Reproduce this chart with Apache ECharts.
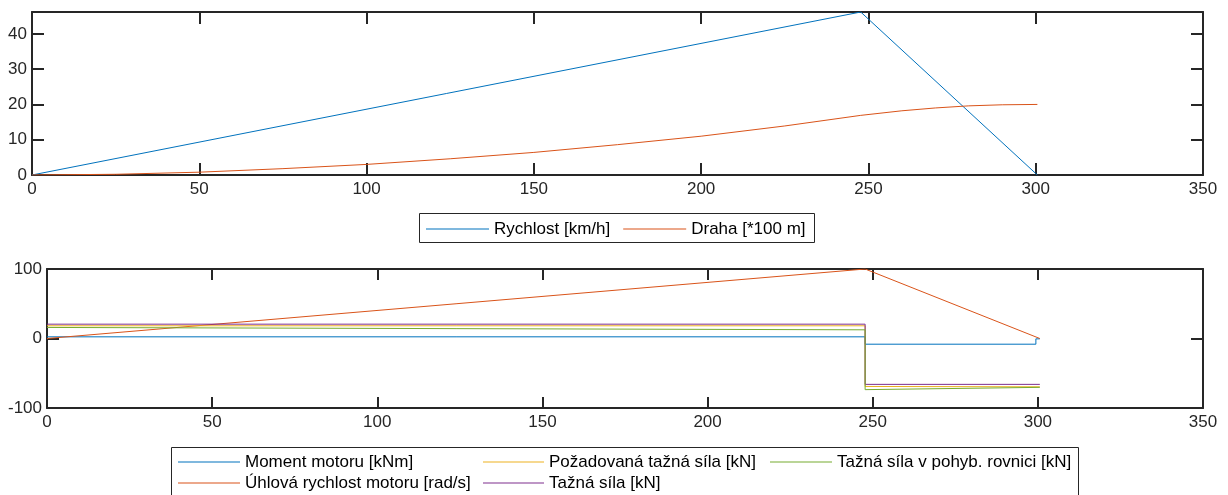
<!DOCTYPE html>
<html>
<head>
<meta charset="utf-8">
<script src="https://cdn.jsdelivr.net/npm/echarts@6/dist/echarts.min.js"></script>
<style>
html,body{margin:0;padding:0;background:#fff;}
#c{width:1228px;height:495px;}
</style>
</head>
<body>
<div id="c"></div>
<script>
// ---- data ----
const speedTime = [0, 247.7, 300.5];
const speedVals = [0, 46.2, 0];

const distTime = [0, 25, 50, 75, 100, 125, 150, 175, 200, 225, 247.7, 260, 270, 280, 290, 300.5];
const distVals = [0, 0.2, 0.8, 1.8, 3.0, 4.6, 6.4, 8.6, 11.0, 13.9, 16.9, 18.2, 19.0, 19.6, 19.9, 20.0];

const momentTime = [0, 247.7, 247.7, 299.4, 299.4, 300.6];
const momentVals = [2.4, 2.4, -8.2, -8.2, -0.5, -0.5];

const omegaTime = [0, 247.7, 300.6];
const omegaVals = [0, 100, 0];

const reqForceTime = [0, 247.7, 247.7, 300.6];
const reqForceVals = [18.3, 18.3, -69.0, -69.5];

const forceTime = [0, 247.7, 247.7, 300.6];
const forceVals = [20.6, 20.6, -66.0, -66.0];

const eqForceTime = [0, 247.7, 247.7, 300.6];
const eqForceVals = [15.9, 12.5, -73.6, -70.3];

const topNames = ['Rychlost [km/h]', 'Draha [*100 m]'];
const botNames = ['Moment motoru [kNm]', 'Úhlová rychlost motoru [rad/s]', 'Požadovaná tažná síla [kN]', 'Tažná síla [kN]', 'Tažná síla v pohyb. rovnici [kN]'];

const xMin = 0, xMax = 350, xStep = 50;
const topYMin = 0, topYMax = 46.2, topYStep = 10;
const botYMin = -100, botYMax = 100, botYStep = 100;

const C = ['#0072BD', '#D95319', '#EDB120', '#7E2F8E', '#77AC30'];

// ---- helpers ----
const zip = (a, b) => a.map((v, i) => [v, b[i]]);
const AX = '#262626';
const FONT = '"Liberation Sans", Arial, Helvetica, sans-serif';

function xAx(grid, pos, labels, tickLen) {
  return {
    type: 'value', gridIndex: grid, position: pos, min: xMin, max: xMax, interval: xStep,
    axisLine: {show: true, onZero: false, lineStyle: {color: AX, width: 2}},
    axisTick: {show: true, inside: true, length: tickLen, lineStyle: {color: AX, width: 2}},
    axisLabel: {show: labels, color: AX, fontSize: 17, fontFamily: FONT, margin: 6},
    splitLine: {show: false}
  };
}
function yAx(grid, pos, labels, mn, mx, st, tickLen) {
  return {
    type: 'value', gridIndex: grid, position: pos, min: mn, max: mx, interval: st,
    axisLine: {show: true, onZero: false, lineStyle: {color: AX, width: 2}},
    axisTick: {show: true, inside: true, length: tickLen, lineStyle: {color: AX, width: 2}},
    axisLabel: {show: labels, color: AX, fontSize: 17, fontFamily: FONT, margin: 5, showMaxLabel: mx === 100 ? true : false},
    splitLine: {show: false}
  };
}
function ser(name, x, y, xi, yi, color) {
  return {
    name: name, type: 'line', xAxisIndex: xi, yAxisIndex: yi, data: zip(x, y),
    showSymbol: false, symbol: 'none', lineStyle: {color: color, width: 1}, itemStyle: {color: color},
    animation: false, clip: true
  };
}
const legTxt = {color: '#000', fontSize: 17, fontFamily: FONT, lineHeight: 20};
function leg(names, left, top, w, gap) {
  return {data: names, left: left, top: top, orient: 'horizontal', padding: 0, icon: 'rect',
    itemWidth: w, itemHeight: 1, itemGap: gap || 10, textStyle: legTxt, selectedMode: false};
}

const option = {
  animation: false,
  backgroundColor: '#fff',
  grid: [
    {left: 32, right: 25, top: 12, height: 163},
    {left: 47, right: 25, top: 269, height: 139}
  ],
  xAxis: [
    xAx(0, 'bottom', true, 12), xAx(0, 'top', false, 12),
    xAx(1, 'bottom', true, 11), xAx(1, 'top', false, 11)
  ],
  yAxis: [
    yAx(0, 'left', true, topYMin, topYMax, topYStep, 12), yAx(0, 'right', false, topYMin, topYMax, topYStep, 12),
    yAx(1, 'left', true, botYMin, botYMax, botYStep, 12), yAx(1, 'right', false, botYMin, botYMax, botYStep, 12)
  ],
  legend: [
    leg(topNames, 426, 219, 63, 13),
    leg([botNames[0]], 178, 452, 62),
    leg([botNames[1]], 178, 473, 62),
    leg([botNames[2]], 483, 452, 61),
    leg([botNames[3]], 483, 473, 61),
    leg([botNames[4]], 770, 452, 62)
  ],
  graphic: [
    {type: 'rect', shape: {x: 419.5, y: 213.5, width: 395, height: 29}, style: {fill: 'none', stroke: AX, lineWidth: 1}, z: 1},
    {type: 'rect', shape: {x: 171.5, y: 447.5, width: 907, height: 60}, style: {fill: 'none', stroke: AX, lineWidth: 1}, z: 1}
  ],
  series: [
    ser(topNames[0], speedTime, speedVals, 0, 0, C[0]),
    ser(topNames[1], distTime, distVals, 0, 0, C[1]),
    ser(botNames[0], momentTime, momentVals, 2, 2, C[0]),
    ser(botNames[1], omegaTime, omegaVals, 2, 2, C[1]),
    ser(botNames[2], reqForceTime, reqForceVals, 2, 2, C[2]),
    ser(botNames[3], forceTime, forceVals, 2, 2, C[3]),
    ser(botNames[4], eqForceTime, eqForceVals, 2, 2, C[4])
  ]
};
const chart = echarts.init(document.getElementById('c'), null, {renderer: 'canvas'});
chart.setOption(option);
</script>
</body>
</html>
